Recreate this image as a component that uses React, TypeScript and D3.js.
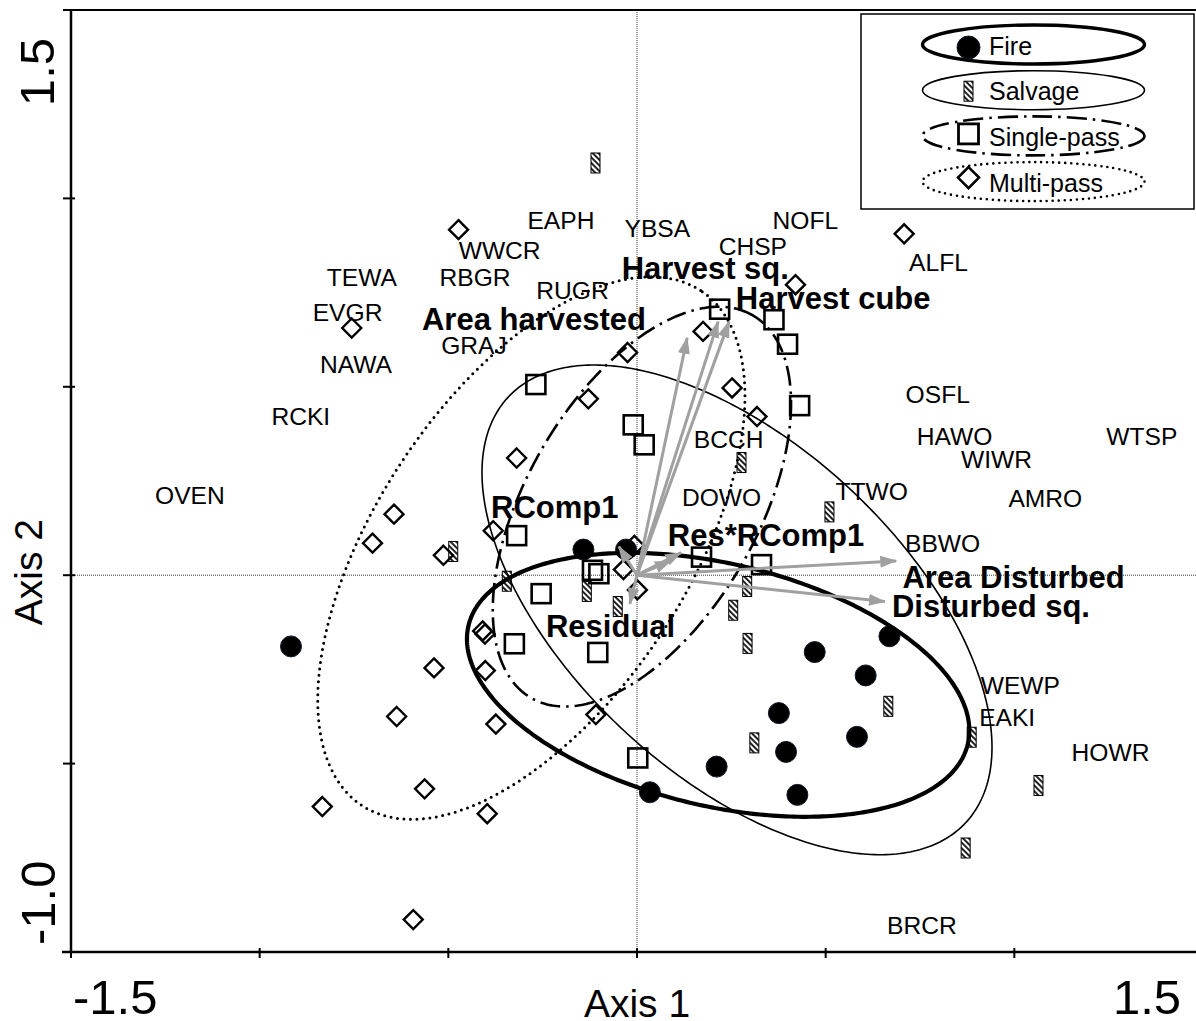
import React from 'react';
import * as d3 from 'd3';

const width = 1196;
const height = 1021;
const font = '"Liberation Sans", Arial, Helvetica, sans-serif';

// site scores (Axis 1, Axis 2) by treatment
const fire = [
  [-0.917, -0.189], [-0.142, 0.068], [-0.029, 0.068], [0.034, -0.576],
  [0.669, -0.162], [0.471, -0.204], [0.606, -0.266], [0.376, -0.366],
  [0.583, -0.429], [0.395, -0.469], [0.211, -0.508], [0.425, -0.583]
];
const salvage = [
  [-0.110, 1.094], [0.277, 0.299], [0.510, 0.168], [-0.487, 0.063],
  [-0.345, -0.016], [-0.133, -0.043], [-0.051, -0.083], [0.292, -0.030],
  [0.255, -0.093], [0.293, -0.181], [0.311, -0.445], [0.666, -0.348],
  [0.887, -0.430], [1.064, -0.558], [0.871, -0.724]
];
const singlePass = [
  [0.219, 0.706], [0.363, 0.678], [0.399, 0.613], [0.431, 0.450],
  [-0.268, 0.506], [-0.010, 0.399], [0.019, 0.346], [-0.319, 0.105],
  [0.171, 0.048], [0.330, 0.028], [-0.118, 0.013], [-0.101, 0.004],
  [-0.254, -0.049], [-0.325, -0.182], [-0.104, -0.205], [0.002, -0.485]
];
const multiPass = [
  [-0.473, 0.917], [-0.756, 0.656], [-0.025, 0.591], [-0.129, 0.468],
  [0.708, 0.906], [0.420, 0.771], [0.175, 0.647], [0.252, 0.497],
  [0.318, 0.421], [-0.319, 0.311], [-0.644, 0.162], [-0.701, 0.085],
  [-0.513, 0.053], [-0.381, 0.118], [-0.007, 0.079], [-0.036, 0.015],
  [0.001, -0.039], [-0.409, -0.148], [-0.403, -0.156], [-0.538, -0.246],
  [-0.402, -0.253], [-0.637, -0.375], [-0.374, -0.395], [-0.109, -0.370],
  [-0.563, -0.567], [-0.834, -0.614], [-0.397, -0.633], [-0.593, -0.914]
];

// group ellipses: centre, semi-axes, rotation (degrees)
const ellipses = [
  {name: 'Fire', cx: 0.215, cy: -0.291, a: 0.680, b: 0.3215, angle: -13.4},
  {name: 'Salvage', cx: 0.265, cy: -0.092, a: 0.8285, b: 0.4388, angle: -43},
  {name: 'Single-pass', cx: 0.013, cy: 0.182, a: 0.5865, b: 0.306, angle: 60},
  {name: 'Multi-pass', cx: -0.280, cy: 0.072, a: 0.8175, b: 0.4128, angle: 56.7}
];

// environmental vectors (arrow tips)
const vectors = [
  [0.133, 0.630], [0.215, 0.673], [0.244, 0.673], [0.117, 0.060], [0.090, 0.038],
  [-0.048, 0.076], [-0.019, -0.076], [0.687, 0.038], [0.657, -0.070]
];
const vectorNames = ['Area harvested', 'Harvest sq.', 'Harvest cube', 'RComp1', 'Res*RComp1', 'Residual', 'Area Disturbed', 'Disturbed sq.'];
const vectorLabelPos = [
  [-0.273, 0.681], [0.181, 0.817], [0.520, 0.737], [-0.218, 0.1805],
  [0.342, 0.106], [-0.070, -0.1335], [0.998, -0.005], [0.938, -0.081]
];

// species labels
const species = ['EAPH', 'YBSA', 'WWCR', 'TEWA', 'RBGR', 'RUGR', 'EVGR', 'GRAJ', 'NAWA', 'RCKI', 'OVEN',
  'NOFL', 'CHSP', 'ALFL', 'OSFL', 'HAWO', 'WTSP', 'WIWR', 'BCCH', 'DOWO', 'TTWO', 'AMRO', 'BBWO',
  'WEWP', 'EAKI', 'HOWR', 'BRCR'];
const speciesPos = [
  [-0.2015, 0.9435], [0.054, 0.920], [-0.364, 0.8625], [-0.729, 0.792], [-0.429, 0.792],
  [-0.171, 0.7556], [-0.767, 0.699], [-0.432, 0.610], [-0.745, 0.559], [-0.891, 0.4225],
  [-1.185, 0.2115], [0.446, 0.943], [0.307, 0.873], [0.799, 0.832], [0.797, 0.480],
  [0.8415, 0.368], [1.338, 0.368], [0.953, 0.308], [0.243, 0.361], [0.224, 0.207],
  [0.622, 0.222], [1.082, 0.204], [0.810, 0.084], [1.016, -0.291], [0.981, -0.378],
  [1.255, -0.4705], [0.755, -0.9275]
];

const xTicks = [-1.5, -1.0, -0.5, 0, 0.5, 1.0];
const yTicks = [-1.0, -0.5, 0, 0.5, 1.0, 1.5];

const diamond = (h: number) => `M0,${-h}L${h},0L0,${h}L${-h},0Z`;
const dashDot = '20 6 2.5 6';
const gray = '#a0a0a0';

export default function App() {
  const x = d3.scaleLinear().domain([-1.5, 1.5]).range([71, 1203]);
  const y = d3.scaleLinear().domain([-1, 1.5]).range([952, 10]);

  const ellipsePath = (e: any) => {
    const th = e.angle * Math.PI / 180;
    const pts = d3.range(0, 360, 1).map(deg => {
      const t = deg * Math.PI / 180;
      return [
        e.cx + e.a * Math.cos(t) * Math.cos(th) - e.b * Math.sin(t) * Math.sin(th),
        e.cy + e.a * Math.cos(t) * Math.sin(th) + e.b * Math.sin(t) * Math.cos(th)
      ];
    });
    return d3.line<number[]>().x(d => x(d[0])).y(d => y(d[1])).curve(d3.curveLinearClosed)(pts) || '';
  };

  const ellStyle: any = {
    'Fire': {strokeWidth: 4.2},
    'Salvage': {strokeWidth: 1.6},
    'Single-pass': {strokeWidth: 2.6, strokeDasharray: dashDot},
    'Multi-pass': {strokeWidth: 3, strokeDasharray: '0 6.5', strokeLinecap: 'round'}
  };

  const legendRows = ['Fire', 'Salvage', 'Single-pass', 'Multi-pass'];
  const legendStyle: any = {
    'Fire': {strokeWidth: 3.4},
    'Salvage': {strokeWidth: 1.6},
    'Single-pass': {strokeWidth: 2.6, strokeDasharray: dashDot},
    'Multi-pass': {strokeWidth: 2.6, strokeDasharray: '0 6', strokeLinecap: 'round'}
  };

  const marker = (group: string, key: any) => {
    if (group === 'Fire') return <circle key={key} r={10.5} fill="#000" stroke="#111827" strokeWidth={1} />;
    if (group === 'Salvage') return <rect key={key} x={-4.5} y={-10} width={9} height={20} fill="url(#hatch)" stroke="#000" strokeWidth={1} />;
    if (group === 'Single-pass') return <rect key={key} x={-9.5} y={-9.5} width={19} height={19} fill="none" stroke="#000" strokeWidth={2.6} />;
    return <path key={key} d={diamond(9.5)} fill="none" stroke="#000" strokeWidth={2.4} />;
  };

  return (
    <svg width={width} height={height} style={{position: 'absolute', left: 0, top: 0, background: '#fff'}}
      fontFamily={font}>
      <defs>
        <pattern id="hatch" patternUnits="userSpaceOnUse" width={4} height={4} patternTransform="rotate(-45)">
          <rect width={4} height={4} fill="#fff" />
          <line x1={1} y1={0} x2={1} y2={4} stroke="#222" strokeWidth={2} />
        </pattern>
        <marker id="head" viewBox="0 0 17 12" refX={16} refY={6} markerWidth={17} markerHeight={12}
          markerUnits="userSpaceOnUse" orient="auto">
          <path d="M0,0L17,6L0,12Z" fill={gray} />
        </marker>
      </defs>

      {/* zero reference lines */}
      <line x1={x(-1.5)} x2={x(1.5)} y1={y(0)} y2={y(0)} stroke="#333" strokeWidth={1} strokeDasharray="1 1" />
      <line x1={x(0)} x2={x(0)} y1={y(1.5)} y2={y(-1)} stroke="#333" strokeWidth={1} strokeDasharray="1 1" />

      {/* site markers */}
      <g>
        {fire.map((d, i) => <g key={'f' + i} transform={`translate(${x(d[0])},${y(d[1])})`}>{marker('Fire', i)}</g>)}
        {salvage.map((d, i) => <g key={'s' + i} transform={`translate(${x(d[0])},${y(d[1])})`}>{marker('Salvage', i)}</g>)}
        {singlePass.map((d, i) => <g key={'p' + i} transform={`translate(${x(d[0])},${y(d[1])})`}>{marker('Single-pass', i)}</g>)}
        {multiPass.map((d, i) => <g key={'m' + i} transform={`translate(${x(d[0])},${y(d[1])})`}>{marker('Multi-pass', i)}</g>)}
      </g>

      {/* ellipses */}
      {ellipses.map(e => (
        <path key={e.name} d={ellipsePath(e)} fill="none" stroke="#000" {...ellStyle[e.name]} />
      ))}

      {/* vectors */}
      {vectors.map((d, i) => (
        <line key={'v' + i} x1={x(0)} y1={y(0)} x2={x(d[0])} y2={y(d[1])} stroke={gray} strokeWidth={3}
          markerEnd="url(#head)" />
      ))}

      {/* species labels */}
      {species.map((s, i) => (
        <text key={s} x={x(speciesPos[i][0])} y={y(speciesPos[i][1])} dy="0.36em" textAnchor="middle"
          fontSize={24.6} fill="#000">{s}</text>
      ))}
      {vectorNames.map((s, i) => (
        <text key={s} x={x(vectorLabelPos[i][0])} y={y(vectorLabelPos[i][1])} dy="0.36em" textAnchor="middle"
          fontSize={31} fontWeight="bold" fill="#000">{s}</text>
      ))}

      {/* axes */}
      <line x1={x(-1.5)} x2={x(1.5)} y1={y(1.5)} y2={y(1.5)} stroke="#000" strokeWidth={2} />
      <line x1={x(-1.5)} x2={x(-1.5)} y1={y(1.5)} y2={y(-1)} stroke="#000" strokeWidth={2.5} />
      <line x1={x(-1.5) - 9} x2={x(1.5)} y1={y(-1)} y2={y(-1)} stroke="#000" strokeWidth={2.5} />
      {xTicks.map(t => (
        <line key={'xt' + t} x1={x(t)} x2={x(t)} y1={y(-1) - 4} y2={y(-1) + 6} stroke="#000" strokeWidth={2} />
      ))}
      {yTicks.map(t => (
        <line key={'yt' + t} x1={x(-1.5) - 8} x2={x(-1.5) + 4} y1={y(t)} y2={y(t)} stroke="#000" strokeWidth={2} />
      ))}

      <text x={x(-1.5) + 2} y={1014} fontSize={49} textAnchor="start">-1.5</text>
      <text x={x(1.5) - 22} y={1014} fontSize={49} textAnchor="end">1.5</text>
      <text transform={`translate(54,${y(1.5) + 28}) rotate(-90)`} fontSize={49} textAnchor="end">1.5</text>
      <text transform={`translate(55,${y(-1) - 7}) rotate(-90)`} fontSize={49} textAnchor="start">-1.0</text>

      <text x={x(0)} y={1017} fontSize={39} textAnchor="middle">Axis 1</text>
      <text transform={`translate(42,${y(0) - 3}) rotate(-90)`} fontSize={39} textAnchor="middle">Axis 2</text>

      {/* legend */}
      <g>
        <rect x={861} y={14} width={333} height={195} fill="#fff" stroke="#000" strokeWidth={1.5} />
        {legendRows.map((name, i) => {
          const cy = 44.5 + i * 45.7;
          return (
            <g key={name}>
              <ellipse cx={1033.5} cy={cy} rx={111} ry={19.5} fill="none" stroke="#000" {...legendStyle[name]} />
              <g transform={`translate(968.5,${cy + (i === 0 ? 3 : i === 2 ? -2 : i === 3 ? -4 : 1)})`}>
                {name === 'Fire' ? <circle r={11.5} fill="#000" stroke="#111827" strokeWidth={1} /> : null}
                {name === 'Salvage' ? marker(name, name) : null}
                {name === 'Single-pass' ? <rect x={-10} y={-10} width={20} height={20} fill="none" stroke="#000" strokeWidth={2.8} /> : null}
                {name === 'Multi-pass' ? <path d={diamond(10.5)} fill="none" stroke="#000" strokeWidth={2.6} /> : null}
              </g>
              <text x={989} y={cy + 10} fontSize={25} fill="#000">{name}</text>
            </g>
          );
        })}
      </g>
    </svg>
  );
}
